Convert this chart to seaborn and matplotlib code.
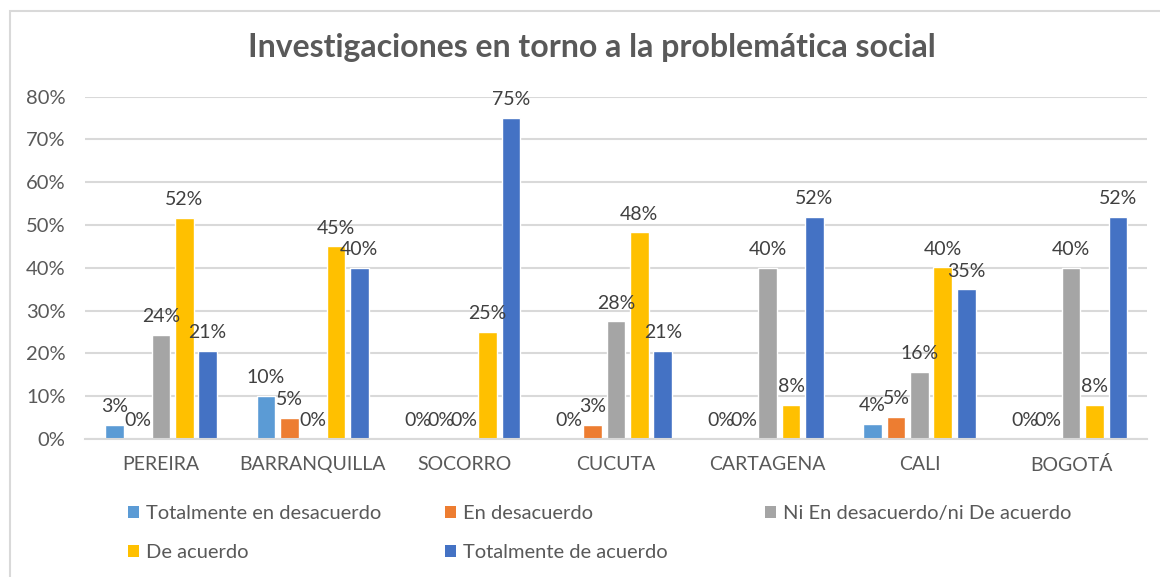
import pandas as pd
import seaborn as sns
import matplotlib.pyplot as plt
from matplotlib.patches import Patch, Rectangle

# Data
ciudades = ['PEREIRA', 'BARRANQUILLA', 'SOCORRO', 'CUCUTA', 'CARTAGENA', 'CALI', 'BOGOTÁ']
respuestas = ['Totalmente en desacuerdo', 'En desacuerdo', 'Ni En desacuerdo/ni De acuerdo',
              'De acuerdo', 'Totalmente de acuerdo']
totalmente_desacuerdo = [0.033, 0.10, 0.0, 0.0, 0.0, 0.036, 0.0]
en_desacuerdo = [0.0, 0.05, 0.0, 0.033, 0.0, 0.051, 0.0]
ni_ni = [0.243, 0.0, 0.0, 0.275, 0.40, 0.157, 0.40]
de_acuerdo = [0.517, 0.45, 0.25, 0.483, 0.08, 0.401, 0.08]
totalmente_acuerdo = [0.206, 0.40, 0.75, 0.206, 0.52, 0.35, 0.52]
colores = ['#5B9BD5', '#ED7D31', '#A5A5A5', '#FFC000', '#4472C4']

series = [totalmente_desacuerdo, en_desacuerdo, ni_ni, de_acuerdo, totalmente_acuerdo]
df = pd.DataFrame({
    'ciudad': ciudades * len(respuestas),
    'respuesta': [r for r in respuestas for _ in ciudades],
    'valor': [v for s in series for v in s],
})

sns.set_style('white')
plt.rcParams['font.family'] = ['Lato', 'DejaVu Sans']

fig = plt.figure(figsize=(11.6, 5.77), dpi=100)
ax = fig.add_axes([0.0733, 0.2392, 0.9155, 0.5932])

sns.barplot(data=df, x='ciudad', y='valor', hue='respuesta', palette=colores,
            width=0.77, gap=0.2, saturation=1, legend=False, ax=ax)

# Data labels (the 0% labels overlap in the original too)
for cont, s in zip(ax.containers, series):
    ax.bar_label(cont, labels=[f'{v:.0%}' for v in s], padding=7,
                 fontsize=14, color='#404040')

ax.set_ylim(0, 0.8)
ax.set_xlim(-0.5, 6.5)
ax.set_yticks([i / 10 for i in range(9)])
ax.set_yticklabels([f'{i * 10}%' for i in range(9)])
ax.set_xlabel('')
ax.set_ylabel('')
ax.yaxis.grid(True, color='#D9D9D9', lw=1.5)
ax.set_axisbelow(True)
for side in ['top', 'right', 'left']:
    ax.spines[side].set_visible(False)
ax.spines['bottom'].set_color('#D9D9D9')
ax.spines['bottom'].set_linewidth(1.5)
ax.tick_params(axis='y', length=0, pad=14, labelsize=14.5, labelcolor='#595959')
ax.tick_params(axis='x', length=0, pad=12, labelsize=14, labelcolor='#595959')

# Title
fig.text(0.510, 1 - 48 / 577, 'Investigaciones en torno a la problemática social',
         ha='center', va='center', fontsize=23, fontweight='bold', color='#595959')

# Legend: three columns placed like the original
columnas = [[0, 3], [1, 4], [2]]
x_cols = [128, 445, 765]
for idx, xc in zip(columnas, x_cols):
    handles = [Patch(facecolor=colores[i], edgecolor='none') for i in idx]
    labels = [respuestas[i] for i in idx]
    fig.legend(handles, labels, loc='upper left', bbox_to_anchor=(xc / 1160, 1 - 505 / 577),
               frameon=False, fontsize=14.5, handlelength=0.55, handleheight=0.55,
               handletextpad=0.35, labelspacing=1.1, borderpad=0, borderaxespad=0,
               labelcolor='#595959')

# Light chart border
fig.patches.append(Rectangle((10 / 1160, -0.1), 1.2, 1.1 - 11 / 577, transform=fig.transFigure,
                             fill=False, edgecolor='#D9D9D9', lw=1.5))

fig.savefig('out.png', dpi=100)
